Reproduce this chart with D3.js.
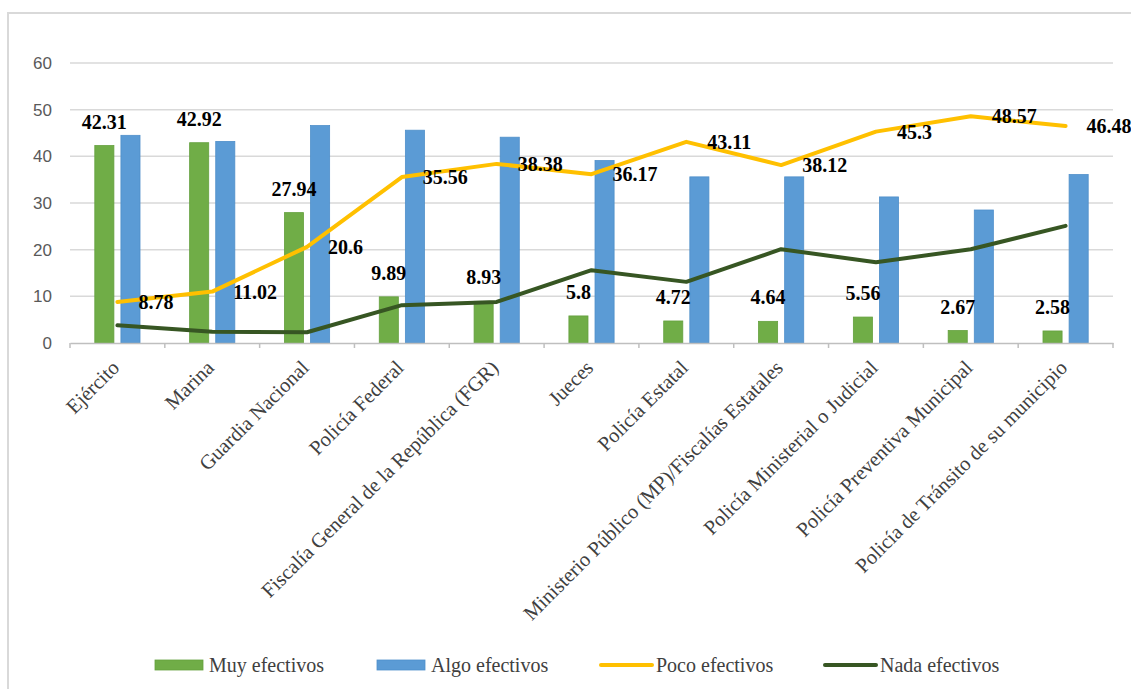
<!DOCTYPE html>
<html>
<head>
<meta charset="utf-8">
<script src="https://cdn.jsdelivr.net/npm/d3@7"></script>
<style>
  html, body { margin: 0; padding: 0; background: #ffffff; }
  svg { display: block; }
</style>
</head>
<body>
<svg id="chart" width="1131" height="689"></svg>
<script>
// ---- data ----
const categories = [
  "Ejército",
  "Marina",
  "Guardia Nacional",
  "Policía Federal",
  "Fiscalía General de la República (FGR)",
  "Jueces",
  "Policía Estatal",
  "Ministerio Público (MP)/Fiscalías Estatales",
  "Policía Ministerial o Judicial",
  "Policía Preventiva Municipal",
  "Policía de Tránsito de su municipio"
];
const muyEfectivos  = [42.31, 42.92, 27.94, 9.89, 8.93, 5.8, 4.72, 4.64, 5.56, 2.67, 2.58];
const algoEfectivos = [44.5, 43.2, 46.6, 45.6, 44.1, 39.1, 35.6, 35.6, 31.3, 28.5, 36.1];
const pocoEfectivos = [8.78, 11.02, 20.6, 35.56, 38.38, 36.17, 43.11, 38.12, 45.3, 48.57, 46.48];
const nadaEfectivos = [3.8, 2.4, 2.3, 8.1, 8.8, 15.6, 13.1, 20.1, 17.3, 20.1, 25.1];
const yTicks = [0, 10, 20, 30, 40, 50, 60];
const seriesNames = ["Muy efectivos", "Algo efectivos", "Poco efectivos", "Nada efectivos"];

// ---- style ----
const C_MUY = "#70AD47", C_ALGO = "#5B9BD5", C_POCO = "#FFC000", C_NADA = "#375623";
const serif = "'Liberation Serif', 'Times New Roman', serif";
const sans = "'Liberation Sans', Arial, sans-serif";

const svg = d3.select("#chart");

// chart frame
svg.append("rect")
  .attr("x", 8).attr("y", 13).attr("width", 1140).attr("height", 700)
  .attr("fill", "none").attr("stroke", "#d9d9d9").attr("stroke-width", 2);

const pLeft = 70, pRight = 1113, pTop = 63, pBottom = 343;

const x = d3.scaleBand().domain(categories).range([pLeft, pRight]).padding(0);
const y = d3.scaleLinear().domain([0, 60]).range([pBottom, pTop]);
const inner = d3.scaleBand().domain(["muy", "algo"])
  .range([x.bandwidth() / 2 - 22.6, x.bandwidth() / 2 + 22.6]).paddingInner(0.269);

// gridlines
svg.append("g")
  .selectAll("line").data(yTicks.filter(d => d > 0)).join("line")
  .attr("x1", pLeft).attr("x2", pRight)
  .attr("y1", d => y(d)).attr("y2", d => y(d))
  .attr("stroke", "#d9d9d9").attr("stroke-width", 1.5);

// y axis labels
const yAxis = d3.axisLeft(y).tickValues(yTicks).tickSize(0).tickPadding(0).tickFormat(d3.format("d"));
const gy = svg.append("g").attr("transform", `translate(52,0)`).call(yAxis);
gy.select(".domain").remove();
gy.selectAll("text").attr("font-family", sans).attr("font-size", 17).attr("fill", "#595959");

// bars
const gBars = svg.append("g");
gBars.selectAll("rect.muy").data(categories).join("rect")
  .attr("class", "muy")
  .attr("x", d => x(d) + inner("muy"))
  .attr("width", inner.bandwidth())
  .attr("y", (d, i) => y(muyEfectivos[i]))
  .attr("height", (d, i) => y(0) - y(muyEfectivos[i]))
  .attr("fill", C_MUY).attr("stroke", "#64a03e").attr("stroke-width", 0.8);
gBars.selectAll("rect.algo").data(categories).join("rect")
  .attr("class", "algo")
  .attr("x", d => x(d) + inner("algo"))
  .attr("width", inner.bandwidth())
  .attr("y", (d, i) => y(algoEfectivos[i]))
  .attr("height", (d, i) => y(0) - y(algoEfectivos[i]))
  .attr("fill", C_ALGO).attr("stroke", "#4f8fca").attr("stroke-width", 0.8);

// x axis
const xAxis = d3.axisBottom(x).tickSize(0).tickFormat("");
const gx = svg.append("g").attr("transform", `translate(0,${pBottom})`).call(xAxis);
gx.select(".domain").attr("stroke", "#bfbfbf").attr("stroke-width", 1.5);
gx.selectAll(".tick").remove();
const boundaries = categories.map(c => x(c)).concat([pRight]);
gx.selectAll("line.bt").data(boundaries).join("line")
  .attr("class", "bt")
  .attr("x1", d => d).attr("x2", d => d).attr("y1", 0).attr("y2", 5)
  .attr("stroke", "#bfbfbf").attr("stroke-width", 1.5);

// x labels
svg.append("g").selectAll("text").data(categories).join("text")
  .attr("transform", d => `translate(${x(d) + x.bandwidth() / 2 + 3},${pBottom + 26}) rotate(-45)`)
  .attr("text-anchor", "end")
  .attr("font-family", serif).attr("font-size", 20.5).attr("fill", "#404040")
  .text(d => d);

// lines
const cx = (d) => x(d) + x.bandwidth() / 2;
const lineGen = vals => d3.line()
  .x(d => cx(d))
  .y((d, i) => y(vals[i]));

svg.append("path").datum(categories)
  .attr("d", lineGen(pocoEfectivos))
  .attr("fill", "none").attr("stroke", C_POCO).attr("stroke-width", 4)
  .attr("stroke-linecap", "round").attr("stroke-linejoin", "round");
svg.append("path").datum(categories)
  .attr("d", lineGen(nadaEfectivos))
  .attr("fill", "none").attr("stroke", C_NADA).attr("stroke-width", 4)
  .attr("stroke-linecap", "round").attr("stroke-linejoin", "round");

// data labels
svg.append("g").selectAll("text").data(categories).join("text")
  .attr("x", d => x(d) + inner("muy") + inner.bandwidth() / 2)
  .attr("y", (d, i) => y(muyEfectivos[i]) - 17)
  .attr("text-anchor", "middle")
  .attr("font-family", serif).attr("font-size", 20).attr("font-weight", "bold").attr("fill", "#000")
  .text((d, i) => muyEfectivos[i]);
svg.append("g").selectAll("text").data(categories).join("text")
  .attr("x", d => cx(d) + 21)
  .attr("y", (d, i) => y(pocoEfectivos[i]))
  .attr("dy", "0.35em")
  .attr("text-anchor", "start")
  .attr("font-family", serif).attr("font-size", 20).attr("font-weight", "bold").attr("fill", "#000")
  .text((d, i) => pocoEfectivos[i]);

// legend
const legendX = [155, 377, 600, 824];
const legendY = 665;
const lg = svg.append("g");
seriesNames.forEach((name, i) => {
  const g = lg.append("g").attr("transform", `translate(${legendX[i]},${legendY})`);
  if (i < 2) {
    g.append("rect").attr("x", 0).attr("y", -5).attr("width", 48).attr("height", 10)
      .attr("fill", i === 0 ? C_MUY : C_ALGO)
      .attr("stroke", i === 0 ? "#64a03e" : "#4f8fca").attr("stroke-width", 0.8);
  } else {
    g.append("line").attr("x1", 1).attr("x2", 52).attr("y1", 0).attr("y2", 0)
      .attr("stroke", i === 2 ? C_POCO : C_NADA).attr("stroke-width", 4)
      .attr("stroke-linecap", "round");
  }
  g.append("text").attr("x", i < 2 ? 54 : 56).attr("y", 0).attr("dy", "0.35em")
    .attr("font-family", serif).attr("font-size", 20).attr("fill", "#404040")
    .text(name);
});
</script>
</body>
</html>
